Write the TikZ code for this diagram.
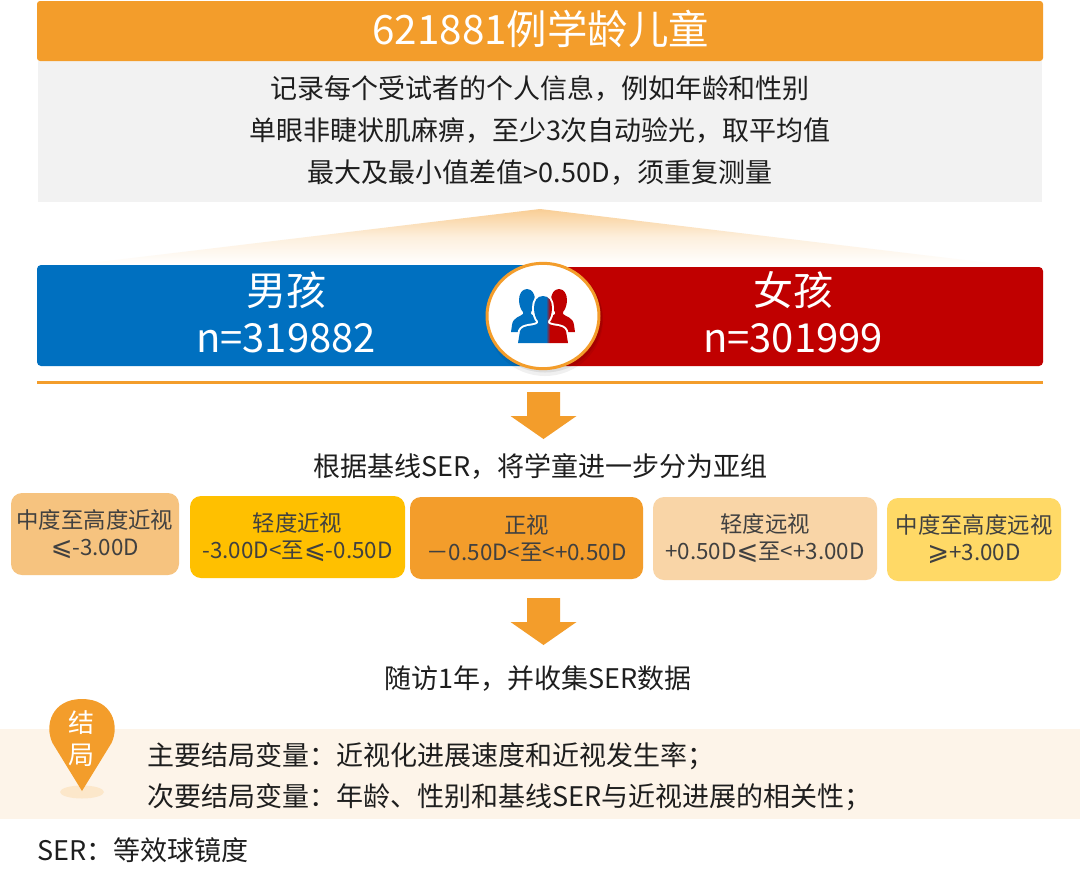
\documentclass[tikz,border=0pt]{standalone}
\usepackage{fontspec}
\setmainfont{Noto Sans CJK SC}
\newfontfamily\symfont{DejaVu Sans}
\definecolor{cOrange}{HTML}{F39D2B}
\definecolor{cGrey}{HTML}{F2F2F2}
\definecolor{cBlue}{HTML}{0070C0}
\definecolor{cRed}{HTML}{C00000}
\definecolor{cBand}{HTML}{FDF4E9}
\definecolor{cTxt}{HTML}{404040}
\definecolor{cInk}{HTML}{1E1E1E}
\definecolor{cG1}{HTML}{F6C37F}
\definecolor{cG2}{HTML}{FFC000}
\definecolor{cG4}{HTML}{F9D5A7}
\definecolor{cG5}{HTML}{FFD966}
\newcommand{\fs}[1]{\fontsize{#1}{#1}\selectfont}
\newcommand{\grpfont}{\fontsize{22.4}{27.5}\selectfont\lineskiplimit -20pt\relax}
\newcommand{\myle}{{\symfont\fontsize{26}{26}\selectfont ⩽}}
\newcommand{\myge}{{\symfont\fontsize{26}{26}\selectfont ⩾}}
\newcommand{\personpath}[2]{% cx, top y
  [shift={(#1,#2)}]
  (0,0) .. controls (-6,0) and (-9,5) .. (-9,12)
  .. controls (-9,18) and (-7,23) .. (-5,25) -- (-5,27)
  .. controls (-8,31) and (-20,28) .. (-23,35) -- (-25,47) -- (25,47) -- (23,35)
  .. controls (20,28) and (8,31) .. (5,27) -- (5,25)
  .. controls (7,23) and (9,18) .. (9,12)
  .. controls (9,5) and (6,0) .. (0,0) -- cycle}
\newcommand{\backpath}[2]{% cx, top y
  [shift={(#1,#2)}]
  (0,0) .. controls (-5,0) and (-8,5) .. (-8,11)
  .. controls (-8,16) and (-6,21) .. (-4,23) -- (-4,25)
  .. controls (-7,28) and (-14,28) .. (-15,36) -- (-16,43) -- (16,43) -- (15,36)
  .. controls (14,28) and (7,28) .. (4,25) -- (4,23)
  .. controls (6,21) and (8,16) .. (8,11)
  .. controls (8,5) and (5,0) .. (0,0) -- cycle}
\newcommand{\blockarrow}[2]{% cx, top y
  [shift={(#1,#2)}] (-16.5,0) -- (16.5,0) -- (16.5,24) -- (33,24) -- (0,47) -- (-33,24) -- (-16.5,24) -- cycle}
\tikzset{
  x=1pt,y=-1pt,
  bodytext/.style={text=cInk,inner sep=0pt,font=\fs{27}},
  endtext/.style={text=cInk,inner sep=0pt,anchor=west,font=\fs{27}},
  gendertext/.style={text=white,inner sep=0pt,font=\fs{40}},
  groupbox/.style={rounded corners=11pt},
  grouptext/.style={text=cTxt,inner sep=0pt,align=center,font=\grpfont},
  pintext/.style={text=white,inner sep=0pt,font=\fs{26}},
}
\begin{document}
\begin{tikzpicture}
\useasboundingbox (0,0) rectangle (1080,871);
\fill[white] (0,0) rectangle (1080,871);
% top
\fill[cGrey] (38,61) rectangle (1042,202);
\fill[cOrange,rounded corners=3pt] (37,1) rectangle (1043,61);
\node[text=white,inner sep=0pt,font=\fs{40.4}] (title) at (540.7,29.3) {621881例学龄儿童};
\node[bodytext] (l1) at (540,88.7) {记录每个受试者的个人信息，例如年龄和性别};
\node[bodytext] (l2) at (540,130.7) {单眼非睫状肌麻痹，至少3次自动验光，取平均值};
\node[bodytext] (l3) at (540,172.7) {最大及最小值差值>0.50D，须重复测量};
% fan
\shade[top color=cOrange!50!white,bottom color=white,middle color=cOrange!16!white] (540,209) -- (1006,265) -- (74,265) -- cycle;
% gender bars
\fill[cRed,rounded corners=4pt] (520,267) rectangle (1043,366);
\fill[cBlue,rounded corners=4pt] (37,265) rectangle (560,366);
\fill[cRed] (543,267) rectangle (570,366);
\node[gendertext] (boy) at (286,290) {男孩};
\node[gendertext] (boyn) at (286,338.5) {n=319882};
\node[gendertext] (girl) at (793,290) {女孩};
\node[gendertext] (girln) at (793,338.5) {n=301999};
% badge
\fill[black,opacity=.06] (545,320) ellipse (58 and 56);
\fill[black,opacity=.08] (545,318) ellipse (57.5 and 54.5);
\draw[cOrange,fill=white,line width=3pt] (543,316) ellipse (56 and 52.7);
\fill[cBlue] \backpath{527}{289};
\fill[cRed] \backpath{559}{289};
\draw[white,line width=4pt] \personpath{543}{296};
\begin{scope}
\clip \personpath{543}{296};
\fill[cBlue] (515,290) rectangle (546,345);
\fill[cRed] (550,290) rectangle (572,345);
\shade[left color=cBlue,right color=cRed] (546,290) rectangle (550,345);
\end{scope}
% rule
\fill[cOrange] (37,381) rectangle (1043,384);
\fill[cOrange] \blockarrow{543.5}{392};
\node[bodytext] (strat) at (540.5,466.5) {根据基线SER，将学童进一步分为亚组};
% groups
\fill[groupbox,cG1] (11,493) rectangle (179,575);
\fill[groupbox,cG2] (190,496) rectangle (405,578);
\fill[groupbox,cOrange] (410,497) rectangle (643,579);
\fill[groupbox,cG4] (653,497) rectangle (877,580);
\fill[groupbox,cG5] (887,498) rectangle (1061,581);
\node[grouptext] (g1) at (95,534) {中度至高度近视\\\myle-3.00D};
\node[grouptext] (g2) at (297.5,537) {轻度近视\\-3.00D<至\myle-0.50D};
\node[grouptext] (g3) at (526.5,538) {正视\\－0.50D<至<+0.50D};
\node[grouptext] (g4) at (765,538) {轻度远视\\+0.50D\myle 至<+3.00D};
\node[grouptext] (g5) at (974,539) {中度至高度远视\\\myge+3.00D};
\fill[cOrange] \blockarrow{543.5}{598};
\node[bodytext] (follow) at (538,678.5) {随访1年，并收集SER数据};
% outcome
\fill[cBand] (0,729) rectangle (1080,819);
\fill[cOrange!25!white] (82,792) ellipse (22 and 6.5);
\fill[cOrange] (82,791) -- (52.5,743) .. controls (44,725) and (52,699) .. (82,699)
  .. controls (112,699) and (120,725) .. (111.5,743) -- cycle;
\node[pintext] (pin1) at (81,722.5) {结};
\node[pintext] (pin2) at (81,755) {局};
\node[endtext] (o1) at (147.5,756.7) {主要结局变量：近视化进展速度和近视发生率；};
\node[endtext] (o2) at (147.5,797.7) {次要结局变量：年龄、性别和基线SER与近视进展的相关性；};
\node[endtext] (note) at (37,850.5) {SER：等效球镜度};
\end{tikzpicture}
\end{document}
